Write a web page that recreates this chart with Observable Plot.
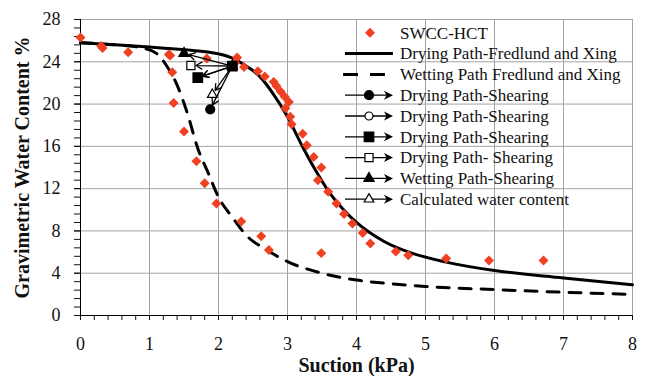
<!DOCTYPE html>
<html><head><meta charset="utf-8">
<script src="https://cdn.jsdelivr.net/npm/d3@7"></script>
<script src="https://cdn.jsdelivr.net/npm/@observablehq/plot@0.6"></script>
<style>
body{margin:0;background:#fff;}
#wrap{position:relative;width:647px;height:376px;}
#wrap svg{position:absolute;left:0;top:0;}
</style></head><body><div id="wrap"></div>
<script>
// ---- data ----
const swccSuction = [0,0.30,0.32,0.69,1.28,1.30,1.33,1.35,1.50,1.68,1.80,1.97,2.33,2.62,2.73,3.49,1.83,2.27,2.24,2.37,2.57,2.67,2.80,2.84,2.90,2.96,3.02,2.97,3.04,3.06,3.22,3.28,3.38,3.49,3.44,3.59,3.71,3.82,3.94,4.09,4.20,4.57,4.75,5.30,5.92,6.71];
const swccWater   = [26.3,25.5,25.3,24.9,24.7,24.6,23.0,20.1,17.4,14.6,12.5,10.6,8.9,7.5,6.2,5.9,24.3,24.4,23.9,23.5,23.1,22.6,22.1,21.7,21.2,20.7,20.2,19.6,18.8,18.1,17.2,16.1,15.0,14.0,12.8,11.7,10.6,9.6,8.7,7.8,6.8,6.05,5.7,5.4,5.2,5.2];

const dryingSuction = [0,0.5,1,1.5,2,2.2,2.4,2.6,2.8,3.0,3.2,3.4,3.6,3.8,4.0,4.4,4.8,5.3,6,7,8];
const dryingWater   = [25.8,25.6,25.4,25.15,24.75,24.35,23.6,22.6,20.9,18.8,16.2,13.8,11.7,10.1,8.8,7.0,5.9,5.05,4.25,3.55,2.9];

const wettingSuction = [0,0.5,0.9,1.1,1.25,1.4,1.55,1.7,1.85,2.0,2.2,2.4,2.7,3.0,3.5,4.0,4.5,5,6,7,8];
const wettingWater   = [25.8,25.6,25.3,24.8,23.6,21.8,19.1,15.8,13.5,11.2,9.3,7.6,6.2,5.1,4.0,3.35,3.0,2.75,2.45,2.2,2.0];

const shearLabels = ["Drying Path-Shearing","Drying Path-Shearing","Drying Path-Shearing","Drying Path- Shearing","Wetting Path-Shearing","Calculated water content"];
const shearFromSuction = [2.2,2.2,2.2,2.2,2.2,2.2];
const shearFromWater   = [23.6,23.6,23.6,23.6,23.6,23.6];
const shearToSuction   = [1.88,1.70,1.70,1.60,1.50,1.91];
const shearToWater     = [19.5,22.5,22.5,23.65,24.8,20.9];

const xTicks = [0,1,2,3,4,5,6,7,8];
const yTicks = [0,4,8,12,16,20,24,28];

const curveLabels = ["SWCC-HCT","Drying Path-Fredlund and Xing","Wetting Path Fredlund and Xing"];
const xTitle = "Suction (kPa)";
const yTitle = "Gravimetric Water Content %";

// ---- styling ----
const RED = "#EF4122";
const FONT = "'Liberation Serif', 'Times New Roman', serif";
const shearStyle = [
  {symbol:"circle", fill:"black", r:4.5},
  {symbol:"circle", fill:"white", r:4.0},
  {symbol:"square", fill:"black", r:5.4},
  {symbol:"square", fill:"white", r:4.6},
  {symbol:"triangle", fill:"black", r:3.8},
  {symbol:"triangle", fill:"white", r:3.6}
];
const drawOrder = [0,1,3,4,5,2];

const swcc = swccSuction.map((x,i)=>({x, y:swccWater[i]}));
const drying = dryingSuction.map((x,i)=>({x, y:dryingWater[i]}));
const wetting = wettingSuction.map((x,i)=>({x, y:wettingWater[i]}));
const shear = shearLabels.map((label,i)=>({label, x1:shearFromSuction[i], y1:shearFromWater[i], x2:shearToSuction[i], y2:shearToWater[i], ...shearStyle[i]}));

const xMinor = d3.range(0,41).map(i=>+(i*0.2).toFixed(1));
const yMinor = d3.range(0,36).map(i=>+(i*0.8).toFixed(1));

const marks = [
  Plot.gridX(xTicks, {stroke:"#a3a3a3", strokeOpacity:1}),
  Plot.gridY(yTicks, {stroke:"#a3a3a3", strokeOpacity:1}),
  Plot.axisX(xMinor, {tickSize:5, tickFormat:()=>"", label:null}),
  Plot.axisX(xTicks, {tickSize:5, tickPadding:17, label:null}),
  Plot.axisY(yMinor, {tickSize:6, tickFormat:()=>"", label:null}),
  Plot.axisY(yTicks, {tickSize:6, tickPadding:14, label:null}),
  Plot.ruleX([0], {stroke:"black", strokeWidth:1}),
  Plot.ruleY([0], {stroke:"black", strokeWidth:1}),
  Plot.line(wetting, {x:"x", y:"y", curve:"monotone-x", stroke:"black", strokeWidth:3, strokeDasharray:"12,10"}),
  Plot.line(drying, {x:"x", y:"y", curve:"monotone-x", stroke:"black", strokeWidth:3}),
  Plot.dot(swcc, {x:"x", y:"y", symbol:"diamond2", r:4.5, fill:RED, stroke:null}),
  Plot.arrow(shear, {x1:"x1", y1:"y1", x2:"x2", y2:"y2", stroke:"black", strokeWidth:1.3, headLength:8, insetEnd:5})
];
for (const i of drawOrder) {
  const s = shear[i];
  marks.push(Plot.dot([{x:s.x1,y:s.y1},{x:s.x2,y:s.y2}], {x:"x", y:"y", symbol:s.symbol, r:s.r, fill:s.fill, stroke:"black", strokeWidth:1.2}));
}
marks.push(
  Plot.text([yTitle], {text:d=>d, frameAnchor:"left", dx:-58, rotate:-90, textAnchor:"middle", lineAnchor:"middle", fontWeight:"bold", fontSize:20}),
  Plot.text([xTitle], {text:d=>d, frameAnchor:"bottom", dy:50, textAnchor:"middle", lineAnchor:"middle", fontWeight:"bold", fontSize:20})
);

const chart = Plot.plot({
  width:647, height:376,
  marginLeft:80, marginRight:15, marginTop:19, marginBottom:61,
  x:{domain:[0,8]},
  y:{domain:[0,28]},
  style:{fontFamily:FONT, fontSize:"18px", color:"#111", background:"white"},
  marks
});
document.getElementById("wrap").appendChild(chart);

// ---- legend (inside the plot area, top right) ----
const lg = d3.select("#wrap").append("svg").attr("width",647).attr("height",376).style("pointer-events","none");
const legendItems = [
  {label:curveLabels[0], kind:"diamond"},
  {label:curveLabels[1], kind:"solid"},
  {label:curveLabels[2], kind:"dashed"},
  ...shear.map(s=>({label:s.label, kind:"arrow", s}))
];
const symMap = {circle:d3.symbolCircle, square:d3.symbolSquare, triangle:d3.symbolTriangle};
legendItems.forEach((it,i)=>{
  const g = lg.append("g").attr("transform",`translate(0,${32.8 + i*20.8})`);
  if (it.kind==="diamond") {
    g.append("path").attr("d", d3.symbol(d3.symbolDiamond2, Math.PI*4.5*4.5)()).attr("transform","translate(370,0)").attr("fill",RED);
  } else if (it.kind==="solid") {
    g.append("line").attr("x1",345).attr("x2",393).attr("stroke","black").attr("stroke-width",3);
  } else if (it.kind==="dashed") {
    g.append("line").attr("x1",343).attr("x2",393).attr("stroke","black").attr("stroke-width",3).attr("stroke-dasharray","15,12");
  } else {
    g.append("line").attr("x1",345).attr("x2",387).attr("stroke","black").attr("stroke-width",1.3);
    g.append("path").attr("d","M393,0L384,-4.5L386.5,0L384,4.5Z").attr("fill","black");
    const s = it.s;
    if (s.symbol==="circle") g.append("circle").attr("cx",369).attr("r",s.r).attr("fill",s.fill).attr("stroke","black").attr("stroke-width",1.2);
    else g.append("path").attr("d",d3.symbol(symMap[s.symbol], Math.PI*s.r*s.r)()).attr("transform","translate(369,0)").attr("fill",s.fill).attr("stroke","black").attr("stroke-width",1.2);
  }
  g.append("text").attr("x",400).attr("y",5.8).attr("font-family",FONT).attr("font-size",17).attr("fill","#111").text(it.label);
});
</script>
</body></html>
